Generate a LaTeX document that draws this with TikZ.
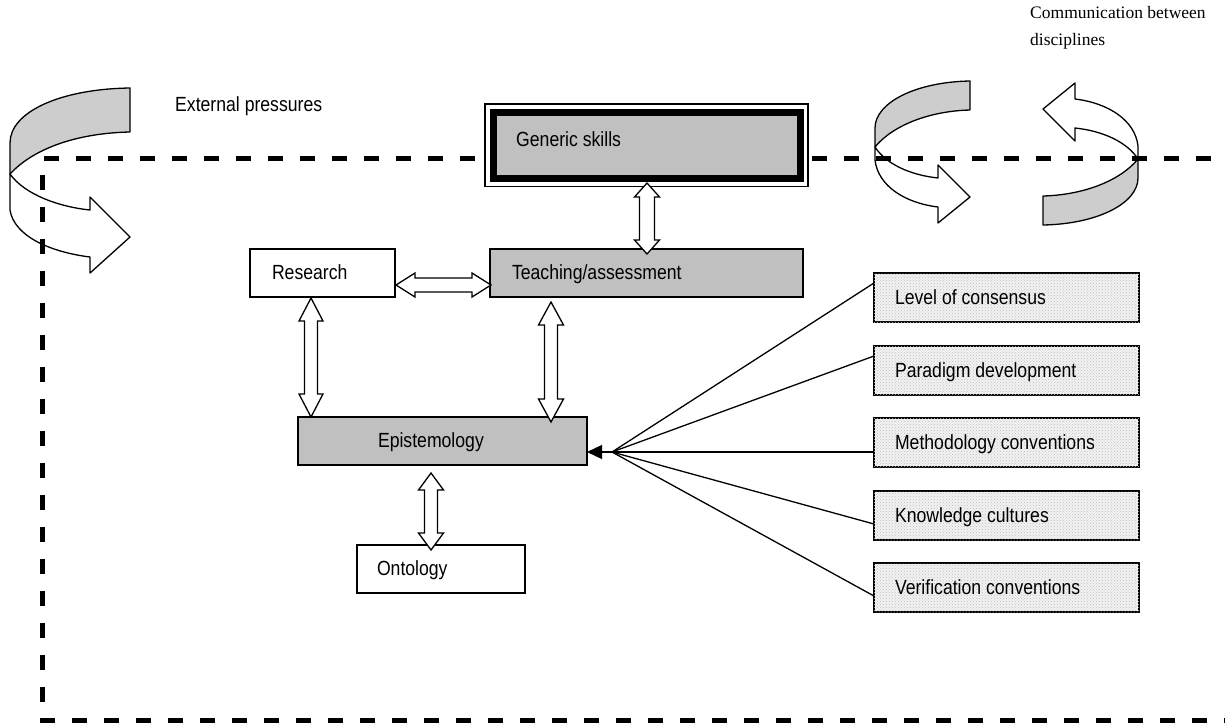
\documentclass[tikz,border=0pt]{standalone}
\usepackage{fontspec}
\newfontfamily\nar{Liberation Sans}[FakeStretch=0.86, WordSpace=1.0]
\newfontfamily\tms{Liberation Serif}
\usetikzlibrary{calc,arrows.meta,patterns}
\definecolor{boxgray}{RGB}{192,192,192}
\definecolor{bandgray}{RGB}{205,205,205}
\tikzset{
 lbl/.style={font=\nar\fontsize{20.5}{24}\selectfont, inner sep=0pt},
 box/.style={draw, line width=1.3pt, outer sep=0pt, inner ysep=0pt, anchor=north west, align=flush left,
   font=\nar\fontsize{20.5}{24}\selectfont, text height=16pt, text depth=3pt},
 hatchbox/.style={box, fill=gray!10, postaction={pattern=crosshatch dots, pattern color=gray!50},
   minimum width=265pt, minimum height=49pt, text width=223pt, inner xsep=21pt},
 band/.style={draw, line width=1.3pt, line join=round},
 blockarr/.style={draw, fill=white, line width=1.3pt, line join=miter},
 fanline/.style={draw, line width=1.3pt},
 border/.style={line width=5pt, dash pattern=on 15pt off 17pt},
}
% vertical double block arrow: #1 top end, #2 bottom end, #3 shaft half width, #4 head half width, #5 head length
\newcommand\vdarrow[5]{%
 \draw[blockarr] let \p1=#1, \p2=#2 in
  (\x1,\y1) -- (\x1+#4pt,\y1-#5pt) -- (\x1+#3pt,\y1-#5pt) -- (\x1+#3pt,\y2+#5pt) -- (\x1+#4pt,\y2+#5pt)
  -- (\x1,\y2) -- (\x1-#4pt,\y2+#5pt) -- (\x1-#3pt,\y2+#5pt) -- (\x1-#3pt,\y1-#5pt) -- (\x1-#4pt,\y1-#5pt) -- cycle;}
% horizontal double block arrow: #1 left end, #2 right end
\newcommand\hdarrow[5]{%
 \draw[blockarr] let \p1=#1, \p2=#2 in
  (\x1,\y1) -- (\x1+#5pt,\y1+#4pt) -- (\x1+#5pt,\y1+#3pt) -- (\x2-#5pt,\y1+#3pt) -- (\x2-#5pt,\y1+#4pt)
  -- (\x2,\y1) -- (\x2-#5pt,\y1-#4pt) -- (\x2-#5pt,\y1-#3pt) -- (\x1+#5pt,\y1-#3pt) -- (\x1+#5pt,\y1-#4pt) -- cycle;}
\newcommand\ringshape{%
 \draw[band, fill=bandgray] (970,81) .. controls (915,82) and (875,103) .. (875,128) -- (875,147)
   .. controls (893,125) and (930,111) .. (970,110) -- cycle;
 \draw[band, fill=white] (875,147) .. controls (886,164) and (910,175) .. (938,178) -- (938,165) -- (970,197)
   -- (938,223) -- (938,207) .. controls (905,203) and (878,186) .. (875,160) -- cycle;}
\begin{document}
\begin{tikzpicture}[x=1pt,y=-1pt]
\useasboundingbox (0,0) rectangle (1225,723);

% external pressures curved arrow
\draw[band, fill=bandgray] (130,88) .. controls (60,89) and (10,112) .. (10,143) -- (10,174)
   .. controls (35,147) and (80,133) .. (130,132) -- cycle;
\draw[band, fill=white] (10,174) .. controls (25,195) and (60,207) .. (90,210) -- (90,197) -- (130,237)
   -- (90,273) -- (90,257) .. controls (50,252) and (14,236) .. (10,210) -- cycle;

% communication curved arrows
\ringshape
\begin{scope}[rotate around={180:(1006.5,153)}]
 \ringshape
\end{scope}

% dashed boundary
\draw[border] (44,158) -- (1225,158);
\draw[border] (42.5,175) -- (42.5,720);
\draw[border] (40,720) -- (1225,720);

% labels
\node[lbl, anchor=base west] (ext) at (175,111) {External pressures};
\node[anchor=north west, align=left, inner sep=0pt, font=\tms\fontsize{17.5}{27}\selectfont] (comm) at (1030,6)
  {Communication between\\disciplines};

% generic skills
\node[draw, line width=7pt, fill=boxgray, outer sep=0pt, anchor=north west, minimum width=307pt, minimum height=66.5pt] (gen) at (493,112) {};
\draw[line width=1.3pt] ($(gen.north west)+(-8,-8)$) rectangle ($(gen.south east)+(8,8)$);
\node[lbl, anchor=base west] (gentxt) at (516,146) {Generic skills};

% main boxes
\node[box, fill=white, minimum width=145pt, minimum height=48pt, text width=101pt, inner xsep=22pt] (research) at (250,249) {Research};
\node[box, fill=boxgray, minimum width=313pt, minimum height=48pt, text width=269pt, inner xsep=22pt] (teach) at (490,249) {Teaching/assessment};
\node[box, fill=boxgray, minimum width=289pt, minimum height=48pt, text width=129pt, inner xsep=80pt] (epi) at (298,417) {Epistemology};
\node[box, fill=white, minimum width=168pt, minimum height=48pt, text width=128pt, inner xsep=20pt] (onto) at (357,545) {Ontology};

% right boxes
\node[hatchbox] (lvl) at (874,273) {Level of consensus};
\node[hatchbox] (para) at (874,346) {Paradigm development};
\node[hatchbox] (meth) at (874,418) {Methodology conventions};
\node[hatchbox] (know) at (874,491) {Knowledge cultures};
\node[hatchbox] (veri) at (874,563) {Verification conventions};

% fan connectors
\coordinate (fan) at (612,452);
\draw[fanline] (fan) -- ($(lvl.north west)+(0,10)$);
\draw[fanline] (fan) -- ($(para.north west)+(0,10)$);
\draw[fanline] (fan) -- ($(meth.north west)+(0,34)$);
\draw[fanline] (fan) -- ($(know.north west)+(0,33)$);
\draw[fanline] (fan) -- ($(veri.north west)+(0,33)$);
\draw[fanline, -{Triangle[length=15pt,width=14pt]}] (fan) -- (fan -| epi.east);

% block double arrows
\coordinate (ax1) at (647,0);
\coordinate (ay2) at (0,285);
\coordinate (ax3) at (311,0);
\coordinate (ax4) at (551,0);
\coordinate (ax5) at (431,0);
\vdarrow{($(ax1 |- gen.south)+(0,4.5)$)}{($(ax1 |- teach.north)+(0,5)$)}{7.5}{12.5}{14}
\hdarrow{($(ay2 -| research.east)+(1,0)$)}{($(ay2 -| teach.west)+(1,0)$)}{7}{12}{19}
\vdarrow{($(ax3 |- research.south)+(0,1)$)}{(ax3 |- epi.north)}{6.5}{12}{23}
\vdarrow{($(ax4 |- teach.south)+(0,5)$)}{($(ax4 |- epi.north)+(0,5)$)}{6.5}{12.5}{23}
\vdarrow{($(ax5 |- epi.south)+(0,8)$)}{($(ax5 |- onto.north)+(0,5)$)}{6.5}{12.5}{17}
\end{tikzpicture}
\end{document}
